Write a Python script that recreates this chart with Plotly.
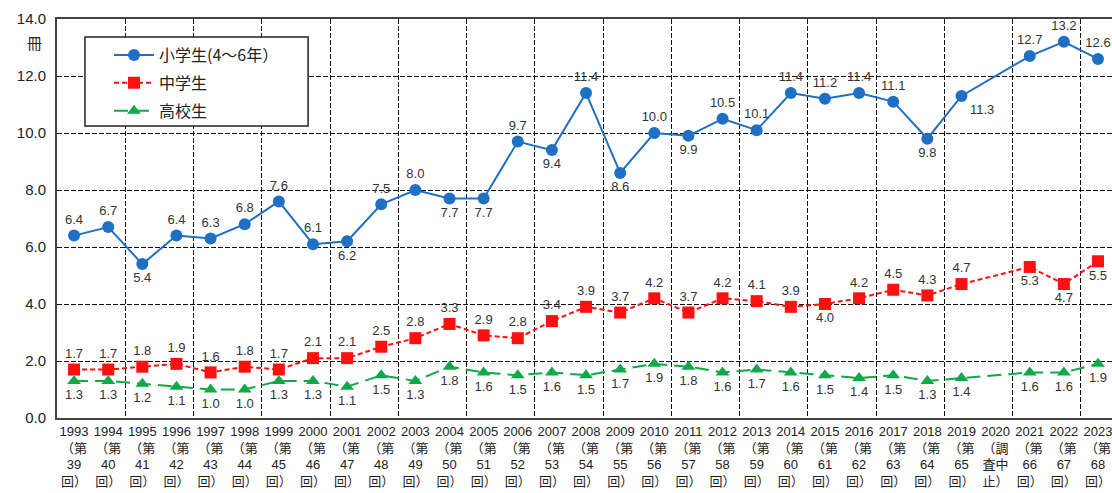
import plotly.graph_objects as go

years = list(range(1993, 2024))
rounds = ["39", "40", "41", "42", "43", "44", "45", "46", "47", "48", "49", "50", "51", "52", "53",
          "54", "55", "56", "57", "58", "59", "60", "61", "62", "63", "64", "65", None, "66", "67", "68"]

elementary = [6.4, 6.7, 5.4, 6.4, 6.3, 6.8, 7.6, 6.1, 6.2, 7.5, 8.0, 7.7, 7.7, 9.7, 9.4, 11.4, 8.6,
              10.0, 9.9, 10.5, 10.1, 11.4, 11.2, 11.4, 11.1, 9.8, 11.3, None, 12.7, 13.2, 12.6]
middle = [1.7, 1.7, 1.8, 1.9, 1.6, 1.8, 1.7, 2.1, 2.1, 2.5, 2.8, 3.3, 2.9, 2.8, 3.4, 3.9, 3.7,
          4.2, 3.7, 4.2, 4.1, 3.9, 4.0, 4.2, 4.5, 4.3, 4.7, None, 5.3, 4.7, 5.5]
high = [1.3, 1.3, 1.2, 1.1, 1.0, 1.0, 1.3, 1.3, 1.1, 1.5, 1.3, 1.8, 1.6, 1.5, 1.6, 1.5, 1.7,
        1.9, 1.8, 1.6, 1.7, 1.6, 1.5, 1.4, 1.5, 1.3, 1.4, None, 1.6, 1.6, 1.9]

series_names = ["小学生(4～6年）", "中学生", "高校生"]
y_ticks = [0, 2, 4, 6, 8, 10, 12, 14]

tick_text = []
for y, r in zip(years, rounds):
    if r is None:
        tick_text.append(f"{y}<br>（調<br>査中<br>止）")
    else:
        tick_text.append(f"{y}<br>（第<br>{r}<br>回）")

T, B = "top center", "bottom center"
elem_pos = [T, T, B, T, T, T, T, T, B, T, T, B, B, T, B, T, B, T, B, T, T, T,
            T, T, T, B, "bottom right", T, T, T, T]
mid_pos = [T] * 31
for i, y in enumerate(years):
    if y in (2015, 2021, 2022, 2023):
        mid_pos[i] = B
high_pos = [B] * 31

def fmt(vals):
    return [("" if v is None else f"{v:.1f}") for v in vals]

num_font = dict(family="Liberation Sans, Arial, sans-serif", size=13, color="#333333")

BLUE, RED, GREEN = "#1F6FC5", "#FF1010", "#10A848"

fig = go.Figure()
fig.add_trace(go.Scatter(
    x=years, y=elementary, name=series_names[0], mode="lines+markers+text", legendgroup="a",
    line=dict(color=BLUE, width=2, dash="solid"),
    marker=dict(symbol="circle", size=12, color=BLUE),
    text=fmt(elementary), textposition=elem_pos, textfont=num_font, connectgaps=True,
    cliponaxis=False,
))
fig.add_trace(go.Scatter(
    x=years, y=middle, name=series_names[1], mode="lines+markers+text", legendgroup="b",
    line=dict(color=RED, width=2, dash="5px,3px"),
    marker=dict(symbol="square", size=12, color=RED),
    text=fmt(middle), textposition=mid_pos, textfont=num_font, connectgaps=True,
    cliponaxis=False,
))
fig.add_trace(go.Scatter(
    x=years, y=high, name=series_names[2], mode="lines+markers+text", legendgroup="c",
    line=dict(color=GREEN, width=2, dash="14px,7px"),
    marker=dict(symbol="triangle-up", size=12, color=GREEN),
    text=fmt(high), textposition=high_pos, textfont=num_font, connectgaps=True,
    cliponaxis=False,
))

fig.update_layout(
    width=1112, height=493,
    margin=dict(l=57, r=0, t=19, b=75),
    plot_bgcolor="white", paper_bgcolor="white",
    font=dict(family="Liberation Sans, Noto Sans CJK JP, sans-serif", color="#222222"),
    showlegend=True,
    legend=dict(
        x=0.0493, y=0.952, xanchor="left", yanchor="top",
        bgcolor="rgba(0,0,0,0)", borderwidth=0,
        font=dict(family="Noto Sans CJK JP, sans-serif", size=16, color="#222222"),
        itemwidth=40, tracegroupgap=4,
    ),
    xaxis=dict(
        range=[1992.5, 2023.41], automargin=False,
        tickmode="array", tickvals=years, ticktext=tick_text,
        tickfont=dict(family="Liberation Sans, Noto Sans CJK JP, sans-serif", size=13, color="#222222"),
        ticklabeloverflow="allow",
        showgrid=False, zeroline=False,
        showline=True, linecolor="#444444", linewidth=2, mirror=True,
        ticks="", tickangle=0,
        minor=dict(tick0=1994.5, dtick=2, showgrid=True, gridcolor="#111111",
                   gridwidth=1.3, griddash="5px,2px", ticks=""),
    ),
    yaxis=dict(
        range=[0, 14], automargin=False, tickmode="array", tickvals=y_ticks,
        ticktext=[f"{v:.1f}" for v in y_ticks],
        tickfont=dict(family="Liberation Sans, Arial, sans-serif", size=15, color="#222222"),
        showgrid=True, gridcolor="#111111", gridwidth=1.3, griddash="5px,2px",
        zeroline=False, showline=True, linecolor="#444444", linewidth=2,
        ticks="", ticklabelstandoff=6,
    ),
    shapes=[dict(type="rect", xref="paper", yref="paper", x0=0.0265, x1=0.238, y0=0.732, y1=0.955,
                 line=dict(color="#222222", width=1.5), fillcolor="white", layer="above")],
)

fig.add_annotation(
    text="冊", xref="paper", yref="paper", x=-0.012, y=0.94, xanchor="right", yanchor="middle",
    showarrow=False, font=dict(family="Noto Sans CJK JP, sans-serif", size=15, color="#222222"),
)

fig.write_html(
    "out.html",
    config={"displayModeBar": False},
    post_script="document.body.style.margin='0';document.documentElement.style.overflow='hidden';document.body.style.overflow='hidden';",
)
